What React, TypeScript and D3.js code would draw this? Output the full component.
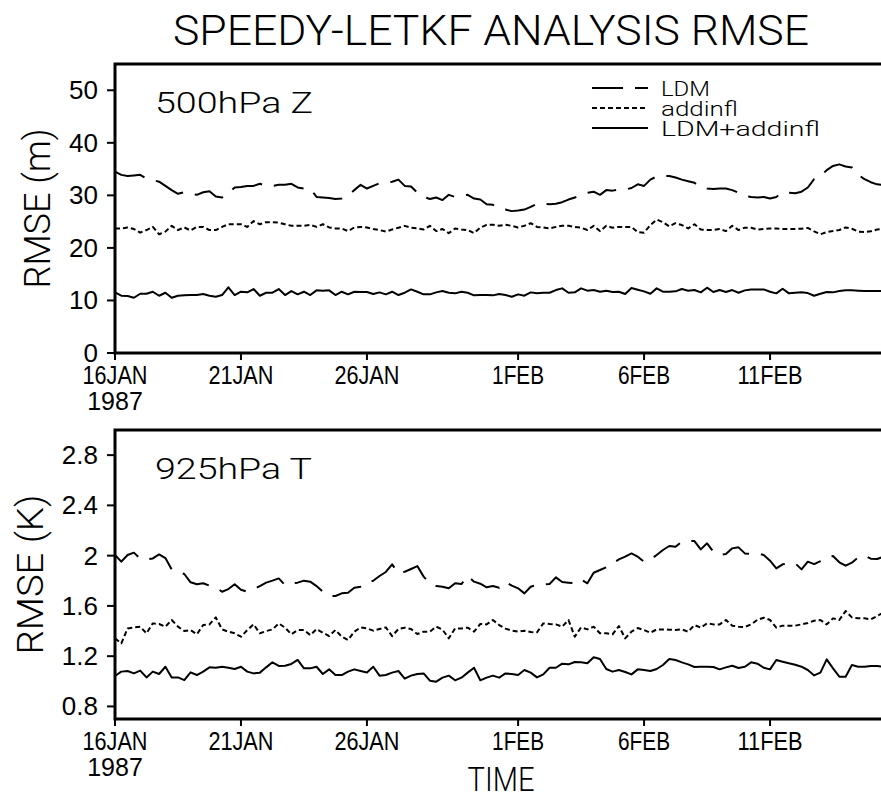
import React from "react";
import * as d3 from "d3";

// ---- data (6-hourly, starting 16 JAN 1987 00Z) ----
const START = Date.UTC(1987, 0, 16);
const STEP_MS = 6 * 3600 * 1000;

const zLDM = [
  34.5, 33.9, 33.7, 33.8, 33.9, 33.2, 32.9, 32.6, 31.8, 31.0,
  30.3, 30.6, 30.3, 30.1, 30.6, 30.8, 29.8, 29.6, 30.4, 31.5,
  31.6, 31.8, 31.8, 32.2, 31.8, 31.8, 32.0, 32.0, 32.2, 31.5,
  31.3, 31.3, 29.7, 29.6, 29.5, 29.3, 29.4, 29.9, 31.0, 32.0,
  31.3, 31.8, 32.3, 32.3, 32.6, 33.0, 31.8, 31.7, 30.5, 29.7,
  29.3, 29.6, 29.1, 30.1, 29.7, 29.9, 30.1, 29.4, 29.2, 28.3,
  28.2, 27.5, 27.3, 27.0, 27.1, 27.3, 27.8, 28.4, 28.4, 28.3,
  28.4, 28.7, 29.2, 29.6, 30.1, 30.5, 30.7, 30.1, 31.0, 30.9,
  31.1, 31.1, 31.4, 32.1, 31.8, 33.0, 33.6, 33.7, 33.7, 33.4,
  33.0, 32.7, 32.4, 31.5, 31.3, 31.2, 31.3, 31.3, 31.0, 30.5,
  29.9, 29.7, 29.6, 29.7, 29.4, 29.7, 30.6, 30.5, 30.4, 30.7,
  31.5, 33.1, 33.7, 34.8, 35.6, 35.9, 35.5, 35.3, 33.9, 33.1,
  32.5, 32.1, 32.0,
];

const zAddinfl = [
  23.7, 23.7, 23.9, 23.6, 22.9, 23.4, 24.0, 22.6, 23.1, 24.2,
  23.4, 23.9, 23.3, 24.0, 24.0, 23.4, 23.4, 24.0, 24.5, 24.5,
  24.5, 24.0, 25.1, 24.5, 24.9, 24.9, 24.8, 24.5, 24.2, 24.2,
  24.2, 24.4, 24.0, 24.5, 23.9, 23.7, 23.7, 23.2, 23.9, 24.0,
  23.9, 23.6, 23.4, 23.1, 23.5, 23.85, 24.2, 23.85, 23.7, 23.5,
  24.2, 23.2, 23.6, 22.8, 23.7, 23.5, 23.4, 22.8, 23.85, 24.4,
  24.4, 24.2, 24.4, 24.2, 23.9, 24.2, 24.7, 24.0, 23.9, 23.7,
  24.0, 24.2, 24.2, 24.0, 23.85, 23.4, 24.2, 23.2, 24.2, 23.85,
  24.0, 24.0, 24.0, 23.0, 22.9, 24.35, 25.4, 24.9, 24.1, 24.7,
  24.35, 23.7, 24.5, 23.5, 23.4, 23.4, 23.6, 23.2, 24.2, 23.4,
  23.85, 23.85, 23.5, 23.6, 23.7, 23.7, 23.6, 23.6, 23.6, 23.65,
  23.8, 23.15, 22.6, 23.0, 23.2, 23.4, 23.9, 23.65, 23.1, 23.0,
  23.15, 23.5, 23.6,
];

const zBoth = [
  11.54, 10.9, 10.84, 10.52, 11.28, 11.28, 11.66, 10.9, 11.47, 10.52,
  10.9, 10.97, 11.03, 11.03, 11.22, 10.9, 10.71, 11.03, 12.49, 11.03,
  11.66, 11.54, 12.17, 10.9, 11.47, 11.47, 12.17, 11.03, 11.79, 11.16,
  11.66, 11.03, 11.92, 11.86, 11.92, 11.03, 11.66, 11.16, 11.66, 11.6,
  11.6, 11.22, 11.54, 11.16, 11.66, 11.03, 11.47, 12.1, 11.66, 11.16,
  11.16, 11.54, 11.79, 11.47, 11.35, 11.66, 11.47, 10.97, 11.03, 11.03,
  10.97, 11.22, 11.03, 10.71, 11.16, 10.9, 11.54, 11.35, 11.47, 11.47,
  11.98, 12.3, 11.47, 11.54, 12.3, 11.86, 11.98, 11.66, 11.86, 11.6,
  11.66, 11.22, 12.36, 12.05, 11.73, 11.28, 12.3, 11.66, 11.66, 11.73,
  12.17, 11.86, 11.98, 11.54, 12.43, 11.6, 11.98, 11.6, 11.98, 11.47,
  11.92, 12.1, 12.1, 12.1, 11.66, 11.35, 12.24, 11.35, 11.47, 11.54,
  11.41, 10.9, 11.28, 11.6, 11.54, 11.79, 11.92, 11.92, 11.86, 11.79,
  11.79, 11.79, 11.79,
];

const tLDM = [
  2.005, 1.952, 2.005, 2.024, 1.976, 1.97, 1.978, 2.01, 1.981, 1.891,
  1.872, 1.854, 1.788, 1.772, 1.78, 1.761, 1.748, 1.713, 1.734, 1.772,
  1.729, 1.713, 1.732, 1.758, 1.785, 1.801, 1.819, 1.766, 1.78, 1.785,
  1.801, 1.793, 1.758, 1.713, 1.679, 1.679, 1.7, 1.705, 1.745, 1.753,
  1.788, 1.8, 1.838, 1.87, 1.931, 1.859, 1.872, 1.894, 1.917, 1.833,
  1.78, 1.758, 1.753, 1.74, 1.78, 1.774, 1.84, 1.793, 1.777, 1.748,
  1.758, 1.745, 1.79, 1.761, 1.74, 1.7, 1.753, 1.766, 1.772, 1.774,
  1.827, 1.79, 1.785, 1.78, 1.811, 1.78, 1.864, 1.886, 1.907, 1.939,
  1.97, 1.992, 2.018, 1.992, 1.952, 1.97, 2.005, 2.045, 2.077, 2.071,
  2.111, 2.116, 2.116, 2.05, 2.098, 2.032, 2.005, 2.013, 2.058, 2.066,
  2.018, 2.013, 2.018, 2.005, 1.96, 1.899, 1.931, 1.939, 1.939, 1.891,
  1.952, 1.933, 1.957, 1.986, 1.997, 1.947, 1.92, 1.944, 1.986, 2.002,
  1.976, 1.973, 1.992,
];

const tAddinfl = [
  1.342, 1.302, 1.421, 1.429, 1.435, 1.382, 1.461, 1.456, 1.435, 1.488,
  1.435, 1.4, 1.408, 1.374, 1.448, 1.453, 1.509, 1.413, 1.395, 1.382,
  1.355, 1.408, 1.453, 1.382, 1.4, 1.413, 1.461, 1.427, 1.374, 1.408,
  1.408, 1.368, 1.416, 1.387, 1.36, 1.408, 1.355, 1.329, 1.395, 1.429,
  1.421, 1.403, 1.416, 1.429, 1.36, 1.416, 1.427, 1.416, 1.376, 1.395,
  1.395, 1.435, 1.411, 1.342, 1.421, 1.421, 1.427, 1.395, 1.456, 1.453,
  1.488, 1.448, 1.419, 1.403, 1.395, 1.403, 1.392, 1.39, 1.461, 1.456,
  1.453, 1.435, 1.488, 1.355, 1.429, 1.413, 1.435, 1.382, 1.382, 1.374,
  1.44, 1.342, 1.395, 1.424, 1.408, 1.387, 1.413, 1.413, 1.411, 1.408,
  1.413, 1.395, 1.448, 1.427, 1.461, 1.453, 1.453, 1.488, 1.443, 1.435,
  1.432, 1.453, 1.49, 1.506, 1.488, 1.427, 1.443, 1.443, 1.443, 1.453,
  1.464, 1.482, 1.488, 1.453, 1.501, 1.488, 1.559, 1.509, 1.501, 1.501,
  1.493, 1.52, 1.546,
];

const tBoth = [
  1.042, 1.077, 1.082, 1.063, 1.085, 1.031, 1.077, 1.058, 1.116, 1.031,
  1.031, 1.01, 1.071, 1.05, 1.077, 1.111, 1.108, 1.116, 1.108, 1.098,
  1.116, 1.077, 1.063, 1.069, 1.111, 1.151, 1.122, 1.124, 1.138, 1.17,
  1.103, 1.103, 1.116, 1.058, 1.095, 1.05, 1.05, 1.077, 1.095, 1.082,
  1.07, 1.116, 1.045, 1.05, 1.069, 1.082, 1.021, 1.045, 1.058, 1.063,
  1.005, 0.997, 1.029, 1.045, 1.008, 1.029, 1.069, 1.108, 1.008, 1.029,
  1.045, 1.029, 1.063, 1.058, 1.05, 1.09, 1.069, 1.031, 1.055, 1.108,
  1.108, 1.14, 1.135, 1.154, 1.151, 1.143, 1.191, 1.177, 1.098, 1.077,
  1.09, 1.074, 1.055, 1.095, 1.09, 1.082, 1.098, 1.13, 1.177, 1.17,
  1.151, 1.135, 1.114, 1.116, 1.116, 1.114, 1.095, 1.111, 1.124, 1.106,
  1.116, 1.151, 1.14, 1.108, 1.095, 1.17, 1.156, 1.143, 1.132, 1.116,
  1.09, 1.047, 1.069, 1.175, 1.103, 1.037, 1.037, 1.13, 1.116, 1.116,
  1.122, 1.122, 1.116,
];

const xTickDates = [
  Date.UTC(1987, 0, 16),
  Date.UTC(1987, 0, 21),
  Date.UTC(1987, 0, 26),
  Date.UTC(1987, 1, 1),
  Date.UTC(1987, 1, 6),
  Date.UTC(1987, 1, 11),
];
const xTickLabels = ["16JAN", "21JAN", "26JAN", "1FEB", "6FEB", "11FEB"];
const yearLabel = "1987";

const zTicks = [0, 10, 20, 30, 40, 50];
const zTickLabels = ["0", "10", "20", "30", "40", "50"];
const tTicks = [0.8, 1.2, 1.6, 2.0, 2.4, 2.8];
const tTickLabels = ["0.8", "1.2", "1.6", "2", "2.4", "2.8"];

const seriesNames = ["LDM", "addinfl", "LDM+addinfl"];

const TITLE = "SPEEDY-LETKF ANALYSIS RMSE";

// ---- layout ----
const W = 881;
const H = 799;
const X0 = 115;
const X1 = 896;

const THIN = "Roboto, 'Liberation Sans', sans-serif";
const TICKF = "'Liberation Sans', Arial, sans-serif";

const dashStyles = ["31 12", "5 3", null];

const xScale = d3
  .scaleUtc()
  .domain([new Date(Date.UTC(1987, 0, 16)), new Date(Date.UTC(1987, 1, 16))])
  .range([X0, X1]);

function timeOf(i: number) {
  return new Date(START + i * STEP_MS);
}

type PanelProps = {
  id: string;
  top: number;
  bottom: number;
  domain: [number, number];
  series: number[][];
  ticks: number[];
  tickLabels: string[];
  label: string;
  labelLen: number;
  yTitle: string;
  yTitleX: number;
  showLegend: boolean;
};

function Panel(p: PanelProps) {
  const y = d3.scaleLinear().domain(p.domain).range([p.bottom, p.top]);
  const line = d3
    .line<number>()
    .x((_, i) => xScale(timeOf(i)))
    .y((d) => y(d));
  const midY = (p.top + p.bottom) / 2;
  return (
    <g>
      <defs>
        <clipPath id={"clip-" + p.id}>
          <rect x={X0} y={p.top} width={X1 - X0} height={p.bottom - p.top} />
        </clipPath>
      </defs>
      <g clipPath={`url(#clip-${p.id})`}>
        {p.series.map((s, k) => (
          <path
            key={k}
            d={line(s) || ""}
            fill="none"
            stroke="#000"
            strokeWidth={2}
            strokeLinejoin="round"
            strokeDasharray={dashStyles[k] || undefined}
          />
        ))}
      </g>
      {/* frame */}
      <rect
        x={X0}
        y={p.top}
        width={X1 - X0}
        height={p.bottom - p.top}
        fill="none"
        stroke="#000"
        strokeWidth={3}
      />
      {/* y ticks */}
      {p.ticks.map((t, k) => (
        <g key={k}>
          <line x1={X0 - 8} x2={X0} y1={y(t)} y2={y(t)} stroke="#000" strokeWidth={2} />
          <text
            x={98}
            y={y(t) + 9}
            textAnchor="end"
            fontFamily={TICKF}
            fontSize={26}
          >
            {p.tickLabels[k]}
          </text>
        </g>
      ))}
      {/* x ticks */}
      {xTickDates.map((d, k) => {
        const x = xScale(new Date(d));
        return (
          <g key={k}>
            <line x1={x} x2={x} y1={p.bottom} y2={p.bottom + 7} stroke="#000" strokeWidth={2} />
            <text
              x={x}
              y={p.bottom + 31}
              textAnchor="middle"
              fontFamily={TICKF}
              fontSize={25}
              textLength={13 * xTickLabels[k].length}
              lengthAdjust="spacingAndGlyphs"
            >
              {xTickLabels[k]}
            </text>
          </g>
        );
      })}
      <text
        x={xScale(new Date(xTickDates[0]))}
        y={p.bottom + 57}
        textAnchor="middle"
        fontFamily={TICKF}
        fontSize={25}
      >
        {yearLabel}
      </text>
      {/* panel label */}
      <text
        x={155}
        y={p.top + 49}
        fontFamily={THIN}
        fontWeight={300}
        fontSize={30}
        textLength={p.labelLen}
        lengthAdjust="spacingAndGlyphs"
      >
        {p.label}
      </text>
      {/* y title */}
      <text
        transform={`translate(${p.yTitleX},${midY}) rotate(-90)`}
        textAnchor="middle"
        fontFamily={THIN}
        fontWeight={300}
        fontSize={37}
        textLength={160}
        lengthAdjust="spacingAndGlyphs"
      >
        {p.yTitle}
      </text>
      {p.showLegend && (
        <g>
          {seriesNames.map((n, k) => {
            const ly = 88 + k * 20;
            const lens = [49, 77, 159];
            return (
              <g key={k}>
                <line
                  x1={592}
                  x2={648}
                  y1={ly}
                  y2={ly}
                  stroke="#000"
                  strokeWidth={2}
                  strokeDasharray={dashStyles[k] || undefined}
                />
                <text
                  x={661}
                  y={ly + 8}
                  fontFamily={THIN}
                  fontWeight={300}
                  fontSize={21}
                  textLength={lens[k]}
                  lengthAdjust="spacingAndGlyphs"
                >
                  {n}
                </text>
              </g>
            );
          })}
        </g>
      )}
    </g>
  );
}

export default function App() {
  return (
    <svg
      width={W}
      height={H}
      viewBox={`0 0 ${W} ${H}`}
      style={{ position: "absolute", left: 0, top: 0, background: "#fff" }}
    >
      <rect x={0} y={0} width={W} height={H} fill="#fff" />
      <text
        x={491}
        y={45}
        textAnchor="middle"
        fontFamily={THIN}
        fontWeight={300}
        fontSize={42}
        textLength={636}
        lengthAdjust="spacingAndGlyphs"
      >
        {TITLE}
      </text>
      <Panel
        id="z"
        top={64}
        bottom={353}
        domain={[0, 55]}
        series={[zLDM, zAddinfl, zBoth]}
        ticks={zTicks}
        tickLabels={zTickLabels}
        label="500hPa Z"
        labelLen={158}
        yTitle="RMSE (m)"
        yTitleX={50}
        showLegend={true}
      />
      <Panel
        id="t"
        top={430}
        bottom={719}
        domain={[0.7, 3.0]}
        series={[tLDM, tAddinfl, tBoth]}
        ticks={tTicks}
        tickLabels={tTickLabels}
        label="925hPa T"
        labelLen={157}
        yTitle="RMSE (K)"
        yTitleX={43}
        showLegend={false}
      />
      <text
        x={501}
        y={791}
        textAnchor="middle"
        fontFamily={THIN}
        fontWeight={300}
        fontSize={34}
        textLength={67}
        lengthAdjust="spacingAndGlyphs"
      >
        TIME
      </text>
    </svg>
  );
}
